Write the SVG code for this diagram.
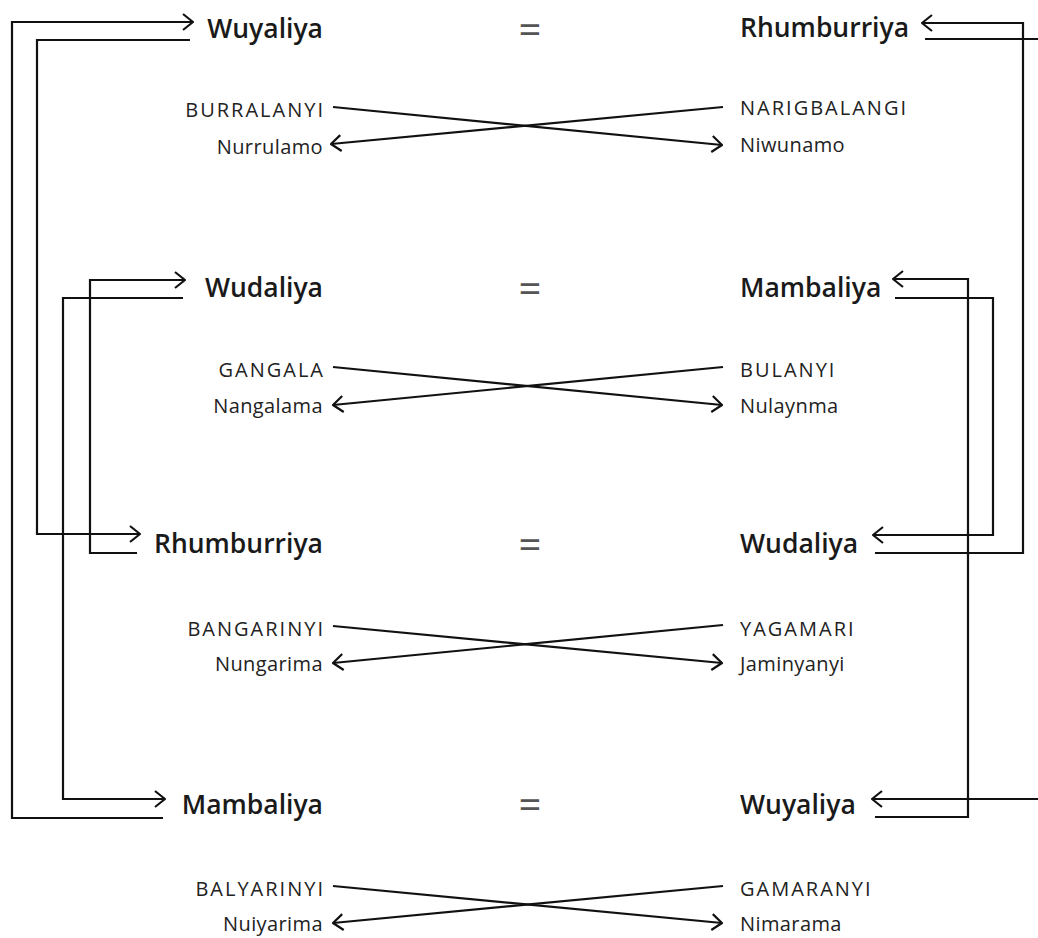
<svg xmlns="http://www.w3.org/2000/svg" width="1038" height="938" viewBox="0 0 1038 938">
<style>
.name{font-family:"Open Sans","Liberation Sans",sans-serif;font-weight:600;font-size:26.5px;fill:#1a1a1a}
.lbl{font-family:"Open Sans","Liberation Sans",sans-serif;font-size:20px;fill:#222;letter-spacing:0.4px}
.cap{letter-spacing:2px}
.eq{font-family:"Open Sans","Liberation Sans",sans-serif;font-size:40px;fill:#555;text-anchor:middle}
.l{text-anchor:end}
.c{fill:none;stroke:#111;stroke-width:2.2}
</style>
<defs>
<marker id="arr" viewBox="0 0 12 18" refX="11" refY="9" markerWidth="12" markerHeight="18" orient="auto" markerUnits="userSpaceOnUse">
<path d="M1,1 L11,9 L1,17" fill="none" stroke="#111" stroke-width="2.2"/>
</marker>
</defs>
<rect width="1038" height="938" fill="#fff"/>
<g id="connectors">
<path class="c" d="M163,818 H12 V22 H193" marker-end="url(#arr)"/>
<path class="c" d="M190,40 H37 V534 H140" marker-end="url(#arr)"/>
<path class="c" d="M137,553 H90 V280 H185" marker-end="url(#arr)"/>
<path class="c" d="M183,298 H63 V799 H165" marker-end="url(#arr)"/>
<path class="c" d="M875,553 H1023 V23 H922" marker-end="url(#arr)"/>
<path class="c" d="M895,298 H993 V535 H873" marker-end="url(#arr)"/>
<path class="c" d="M875,817 H968 V279 H893" marker-end="url(#arr)"/>
<path class="c" d="M925,39 H1040"/>
<path class="c" d="M1040,799 H872" marker-end="url(#arr)"/>
<path class="c" d="M333,107 L722,145" marker-end="url(#arr)"/>
<path class="c" d="M723,107 L331,144" marker-end="url(#arr)"/>
<path class="c" d="M333,367 L722,405" marker-end="url(#arr)"/>
<path class="c" d="M723,367 L333,405" marker-end="url(#arr)"/>
<path class="c" d="M333,626 L722,663" marker-end="url(#arr)"/>
<path class="c" d="M723,625 L333,663" marker-end="url(#arr)"/>
<path class="c" d="M333,886 L722,923" marker-end="url(#arr)"/>
<path class="c" d="M723,886 L333,923" marker-end="url(#arr)"/>
</g>
<g id="n-wuyaliya-l"><text class="name l" x="323" y="38">Wuyaliya</text></g>
<g id="eq1"><text class="eq" x="530" y="44">=</text></g>
<g id="n-rhumburriya-r"><text class="name" x="740" y="37">Rhumburriya</text></g>
<g id="n-burralanyi"><text class="lbl cap l" x="325" y="117">BURRALANYI</text></g>
<g id="n-nurrulamo"><text class="lbl l" x="323" y="154">Nurrulamo</text></g>
<g id="n-narigbalangi"><text class="lbl cap" x="740" y="115">NARIGBALANGI</text></g>
<g id="n-niwunamo"><text class="lbl" x="740" y="152">Niwunamo</text></g>

<g id="n-wudaliya-l"><text class="name l" x="323" y="297">Wudaliya</text></g>
<g id="eq2"><text class="eq" x="530" y="303">=</text></g>
<g id="n-mambaliya-r"><text class="name" x="740" y="297">Mambaliya</text></g>
<g id="n-gangala"><text class="lbl cap l" x="325" y="377">GANGALA</text></g>
<g id="n-nangalama"><text class="lbl l" x="323" y="413">Nangalama</text></g>
<g id="n-bulanyi"><text class="lbl cap" x="740" y="377">BULANYI</text></g>
<g id="n-nulaynma"><text class="lbl" x="740" y="413">Nulaynma</text></g>

<g id="n-rhumburriya-l"><text class="name l" x="323" y="553">Rhumburriya</text></g>
<g id="eq3"><text class="eq" x="530" y="559">=</text></g>
<g id="n-wudaliya-r"><text class="name" x="740" y="553">Wudaliya</text></g>
<g id="n-bangarinyi"><text class="lbl cap l" x="325" y="636">BANGARINYI</text></g>
<g id="n-nungarima"><text class="lbl l" x="323" y="671">Nungarima</text></g>
<g id="n-yagamari"><text class="lbl cap" x="740" y="636">YAGAMARI</text></g>
<g id="n-jaminyanyi"><text class="lbl" x="740" y="671">Jaminyanyi</text></g>

<g id="n-mambaliya-l"><text class="name l" x="323" y="814">Mambaliya</text></g>
<g id="eq4"><text class="eq" x="530" y="819">=</text></g>
<g id="n-wuyaliya-r"><text class="name" x="740" y="814">Wuyaliya</text></g>
<g id="n-balyarinyi"><text class="lbl cap l" x="325" y="896">BALYARINYI</text></g>
<g id="n-nuiyarima"><text class="lbl l" x="323" y="931">Nuiyarima</text></g>
<g id="n-gamaranyi"><text class="lbl cap" x="740" y="896">GAMARANYI</text></g>
<g id="n-nimarama"><text class="lbl" x="740" y="931">Nimarama</text></g>
</svg>
